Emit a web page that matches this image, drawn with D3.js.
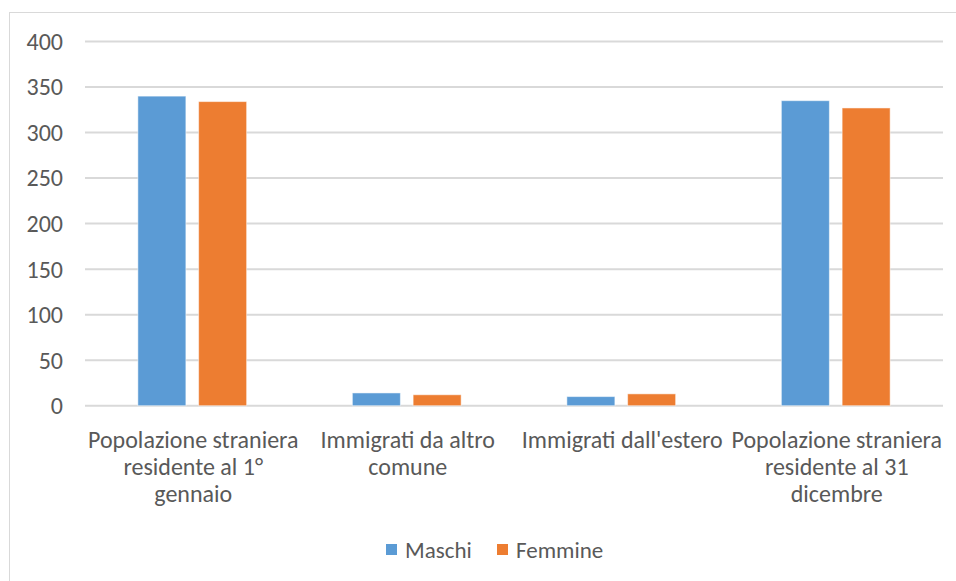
<!DOCTYPE html>
<html>
<head>
<meta charset="utf-8">
<script src="https://cdn.jsdelivr.net/npm/d3@7"></script>
<style>
  body { margin: 0; background: #fff; }
  text { font-family: Calibri, Carlito, Lato, sans-serif; fill: #595959; }
</style>
</head>
<body>
<svg width="956" height="581"></svg>
<script>
// data
var categories = [
  "Popolazione straniera\nresidente al 1°\ngennaio",
  "Immigrati da altro\ncomune",
  "Immigrati dall'estero",
  "Popolazione straniera\nresidente al 31\ndicembre"
];
var series = ["Maschi", "Femmine"];
var maschi = [340, 14, 10, 335];
var femmine = [334, 12, 13, 327];
var yTicks = [0, 50, 100, 150, 200, 250, 300, 350, 400];
var colors = ["#5B9BD5", "#ED7D31"];

var svg = d3.select("svg"),
    width = +svg.attr("width"),
    height = +svg.attr("height");

// chart border (runs off the right / bottom edge like in the screenshot)
svg.append("rect")
  .attr("x", 9.5).attr("y", 12.5)
  .attr("width", 980).attr("height", 620)
  .attr("fill", "none")
  .attr("stroke", "#d9d9d9");

var x0 = d3.scaleBand()
    .domain(d3.range(categories.length))
    .range([85, 943]);

var x1 = d3.scaleBand()
    .domain(series)
    .range([0, x0.bandwidth()])
    .paddingInner(0.21)
    .paddingOuter(0.87);

var y = d3.scaleLinear()
    .domain([0, 400])
    .range([405.7, 41.5]);

var color = d3.scaleOrdinal().domain(series).range(colors);

// gridlines
svg.append("g")
  .selectAll("line")
  .data(yTicks)
  .enter().append("line")
    .attr("x1", 85).attr("x2", 943)
    .attr("y1", function(d){ return y(d) })
    .attr("y2", function(d){ return y(d) })
    .attr("stroke", "#d9d9d9")
    .attr("stroke-width", 2);

// y labels
svg.append("g")
  .selectAll("text")
  .data(yTicks)
  .enter().append("text")
    .attr("x", 63)
    .attr("y", function(d){ return y(d) })
    .attr("text-anchor", "end")
    .attr("dy", "0.35em")
    .style("font-size", "24px")
    .text(function(d){ return d });

// bars
var rows = categories.map(function(c, i){
  return [{s: "Maschi", v: maschi[i]}, {s: "Femmine", v: femmine[i]}];
});

svg.append("g")
  .selectAll("g")
  .data(rows)
  .enter().append("g")
    .attr("transform", function(d, i){ return "translate(" + x0(i) + ",0)" })
  .selectAll("rect")
  .data(function(d){ return d })
  .enter().append("rect")
    .attr("x", function(d){ return x1(d.s) })
    .attr("width", x1.bandwidth())
    .attr("y", function(d){ return y(d.v) })
    .attr("height", function(d){ return y(0) - y(d.v) })
    .attr("fill", function(d){ return color(d.s) })
    .attr("stroke", "#fff")
    .attr("stroke-opacity", 0.5)
    .attr("stroke-width", 1);

// category labels
var lab = svg.append("g")
  .selectAll("text")
  .data(categories)
  .enter().append("text")
    .attr("x", function(d, i){ return x0(i) + x0.bandwidth() / 2 + 1 })
    .attr("y", 448)
    .attr("text-anchor", "middle")
    .style("font-size", "24px");

lab.selectAll("tspan")
  .data(function(d){ return d.split("\n") })
  .enter().append("tspan")
    .attr("x", function(){ return d3.select(this.parentNode).attr("x") })
    .attr("dy", function(d, i){ return i ? 27 : 0 })
    .text(function(d){ return d });

// legend
var legendX = [386, 497];
var leg = svg.append("g")
  .selectAll("g")
  .data(series)
  .enter().append("g")
    .attr("transform", function(d, i){ return "translate(" + legendX[i] + ",544)" });

leg.append("rect")
  .attr("width", 11).attr("height", 11)
  .attr("fill", function(d){ return color(d) });

leg.append("text")
  .attr("x", 19).attr("y", 6)
  .attr("dy", "0.35em")
  .style("font-size", "23px")
  .text(function(d){ return d });
</script>
</body>
</html>
